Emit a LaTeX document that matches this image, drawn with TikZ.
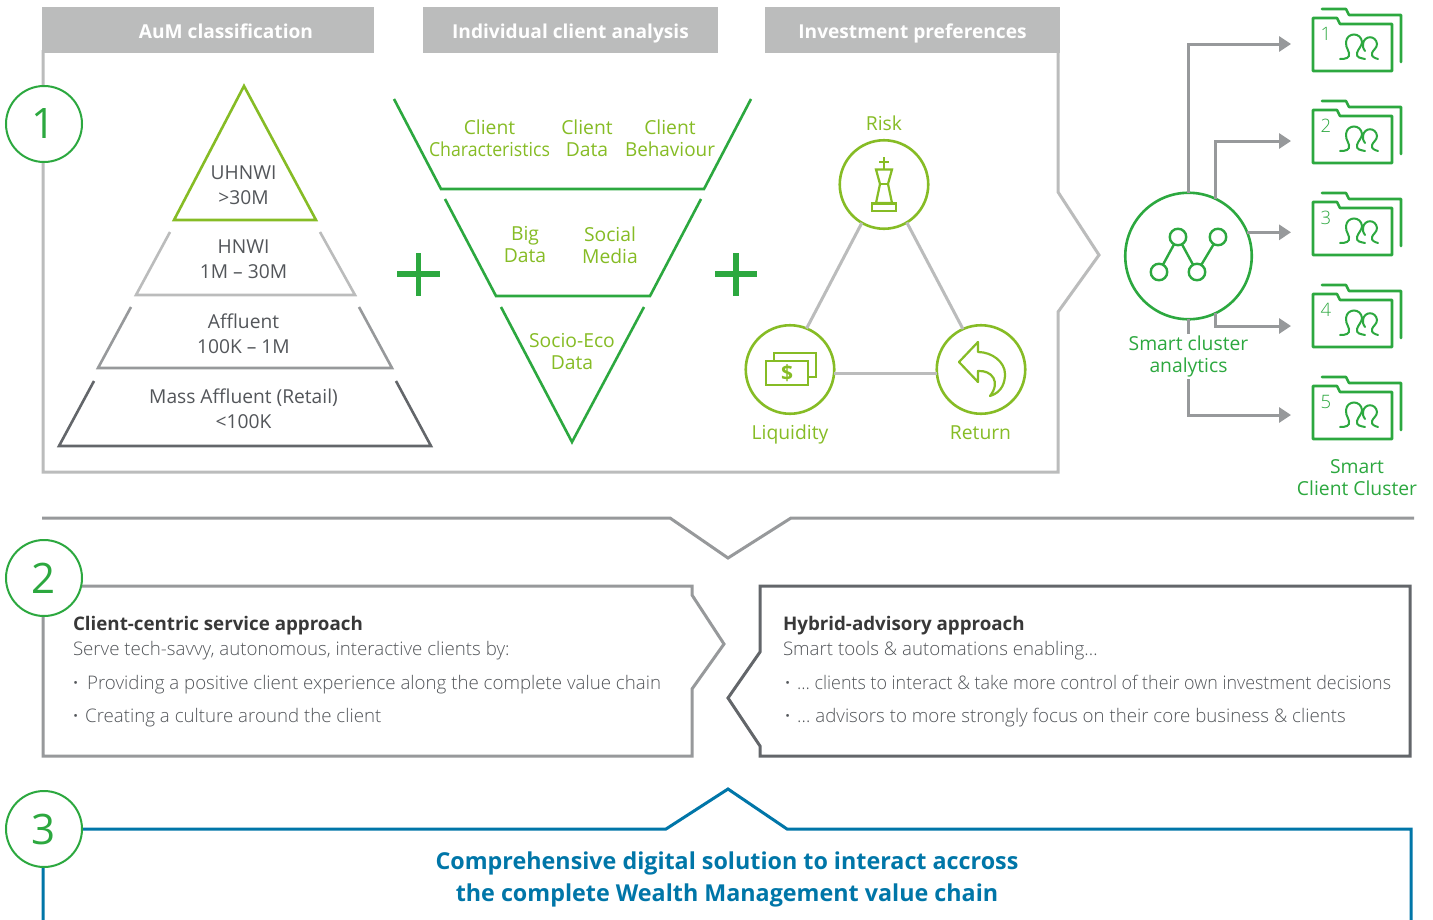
\documentclass[tikz,border=0pt]{standalone}
\usepackage{fontspec}
\setmainfont{Open Sans}
\newfontfamily\lightf{Open Sans Light}
\usetikzlibrary{arrows.meta,calc}
\definecolor{grn}{HTML}{2CA83F}
\definecolor{lime}{HTML}{86BC25}
\definecolor{lgray}{HTML}{BBBCBC}
\definecolor{mgray}{HTML}{97999B}
\definecolor{dgray}{HTML}{63666A}
\definecolor{txt}{HTML}{53565A}
\definecolor{blue}{HTML}{0076A8}
\newcommand{\fs}[2]{\fontsize{#1}{#2}\selectfont}
\tikzset{
 every node/.style={inner sep=0pt,outer sep=0pt},
 head/.style={fill=lgray,minimum height=46pt,anchor=north west},
 headt/.style={text=white,font=\fs{19.15}{22}\bfseries,anchor=base},
 lab/.style={align=center,text=txt,font=\fs{19.2}{25}},
 limelab/.style={align=center,text=lime,font=\fs{19.3}{22}},
 grnlab/.style={align=center,text=grn,font=\fs{19.3}{22}},
 num/.style={circle,draw=grn,line width=2pt,fill=white,minimum size=76pt,text=grn,font=\fs{42}{42}},
 bcirc/.style={circle,draw=lime,line width=2.6pt,fill=white,minimum size=88.5pt},
 conn/.style={draw=mgray,line width=3pt,-{Triangle[length=12pt,width=15pt]}},
 body/.style={anchor=base west,text=txt,font=\lightf\fs{18.7}{22}},
 bodyb/.style={anchor=base west,text=black!78,font=\fs{18.75}{22}\bfseries},
 fold/.style={draw=grn,line width=2.6pt,line join=round,line cap=round},
 ppl/.style={draw=grn,line width=2pt,line cap=round},
 frm/.style={line width=3pt,line join=miter},
 pics/folder/.style={code={
  \draw[fold] (0,0) -- (24,0) -- (27,6) -- (79,6) -- (79,53) -- (0,53) -- cycle;
  \draw[fold] (9,-9) -- (33,-9) -- (36,-3) -- (88,-3) -- (88,44);
  \draw[ppl] (27,41) .. controls (33,41) and (37,40) .. (36,35) .. controls (34,29) and (32,27) .. (33,24) .. controls (34,14) and (48,14) .. (49,24) .. controls (49,28) and (45,31) .. (44,35) .. controls (43,40) and (48,40) .. (52,41);
  \draw[ppl] (52,33) .. controls (50,30) and (49.5,28) .. (50,26) .. controls (51,17) and (63,17) .. (64,26) .. controls (64,30) and (60,32) .. (59,35) .. controls (58,39) and (62,40) .. (65,41);
 }},
}
\begin{document}
\begin{tikzpicture}[x=1pt,y=-1pt]
\useasboundingbox (0,0) rectangle (1433,919);
\fill[white] (0,0) rectangle (1433,919);
% frame 1
\draw[lgray,frm] (43,50) -- (43,472) -- (1058,472) -- (1058,312) -- (1099,255) -- (1058,192) -- (1058,50);
\node[head,minimum width=332pt] (h1) at (42,7) {};
\node[head,minimum width=295pt] (h2) at (423,7) {};
\node[head,minimum width=295pt] (h3) at (765,7) {};
\node[headt] (ht1) at (226,38.5) {AuM classification};
\node[headt] (ht2) at (570.5,38.5) {Individual client analysis};
\node[headt] (ht3) at (912.5,38.5) {Investment preferences};
\node[num] (n1) at (44,124) {1};
% pyramid
\draw[lime,line width=2.6pt,line join=miter] (244,86) -- (174,220) -- (316,220) -- cycle;
\draw[lgray,line width=2.6pt] (170,232) -- (136,295) -- (355,295) -- (320,232);
\draw[mgray,line width=2.6pt] (131,307) -- (98,368) -- (392,368) -- (359,307);
\draw[dgray,line width=2.6pt] (94,381) -- (59,446) -- (431,446) -- (396,381);
\node[lab] (p1) at (243.5,185) {UHNWI\\>30M};
\node[lab] (p2) at (243.5,259.5) {HNWI\\1M – 30M};
\node[lab] (p3) at (243.5,333.5) {Affluent\\100K – 1M};
\node[lab] (p4) at (243.5,408.5) {Mass Affluent (Retail)\\<100K};
% funnel
\draw[grn,line width=2.6pt] (394,99) -- (441,189) -- (704,189) -- (751,99);
\draw[grn,line width=2.6pt] (445,199) -- (496,296) -- (650,296) -- (701,199);
\draw[grn,line width=2.6pt] (501,307) -- (572,442) -- (644,307);
\node[limelab] (f1) at (489.5,138) {Client\\\scalebox{.917}[1]{Characteristics}};
\node[limelab] (f2) at (587,138) {Client\\Data};
\node[limelab] (f3) at (670,138) {Client\\\scalebox{.98}[1]{Behaviour}};
\node[limelab] (f4) at (525,245) {Big\\Data};
\node[limelab] (f5) at (610,245) {Social\\Media};
\node[limelab] (f6) at (572,351.5) {Socio-Eco\\Data};
% plus
\draw[grn,line width=5.5pt] (397,274) -- (440,274) (418.5,253) -- (418.5,296);
\draw[grn,line width=5.5pt] (715,274) -- (757,274) (736,253) -- (736,296);
% triangle
\node[bcirc] (risk) at (884,184.5) {};
\node[bcirc] (liq) at (790,369.5) {};
\node[bcirc] (ret) at (981,369.5) {};
\draw[lgray,line width=3pt] (risk.-120) -- (liq.68);
\draw[lgray,line width=3pt] (risk.-59) -- (ret.114);
\draw[lgray,line width=3pt] (liq.-5) -- (ret.185);
\node[limelab,anchor=base] (lr) at (884,130) {Risk};
\node[limelab,anchor=base] (ll) at (790,439) {Liquidity};
\node[limelab,anchor=base] (lre) at (980.5,439) {Return};
% king
\begin{scope}[lime,line width=2.2pt,line join=miter]
\draw (884,157) -- (884,169) (879,162) -- (889,162);
\draw (876,169.5) -- (892,169.5) -- (888,184) -- (892,203) -- (876,203) -- (880,184) -- cycle;
\draw (880,184) -- (888,184);
\draw (872,203.5) -- (896,203.5) -- (896,211) -- (872,211) -- cycle;
% money
\draw[fill=white] (774,353) -- (816,353) -- (816,377) -- (774,377) -- cycle;
\draw[fill=white] (766,361) -- (808,361) -- (808,385) -- (766,385) -- cycle;
% return
\draw[line join=round] (978,342) -- (959,362) -- (978,382) -- (978,371) .. controls (992,370) and (1001,382) .. (990,396) .. controls (1003,392) and (1005,381) .. (1005,374) .. controls (1005,362) and (992,352) .. (978,352) -- cycle;
\end{scope}
\node[text=lime,font=\fs{21}{21}\bfseries] (dollar) at (787,373) {\$};
% smart
\node[circle,draw=grn,line width=2.6pt,fill=white,minimum size=126.5pt] (smart) at (1188.5,256) {};
\coordinate (a1) at (1291,44);
\coordinate (a2) at (1291,141);
\coordinate (a3) at (1291,232);
\coordinate (a4) at (1291,326);
\coordinate (a5) at (1291,415);
\draw[conn] (smart.north) |- (a1);
\draw[conn] (smart.65) |- (a2);
\draw[conn] (smart.22.5) -- (smart.22.5 -| a3);
\draw[conn] (smart.-65) |- (a4);
\draw[conn] (smart.south) |- (a5);
\node[grnlab,fill=white,inner ysep=2pt,minimum width=128pt] (sl) at (1188.5,356.5) {Smart cluster\\analytics};
\node[circle,draw=grn,line width=2.4pt,minimum size=16.5pt] (s1) at (1159,272) {};
\node[circle,draw=grn,line width=2.4pt,minimum size=16.5pt] (s2) at (1178,237) {};
\node[circle,draw=grn,line width=2.4pt,minimum size=16.5pt] (s3) at (1197,272) {};
\node[circle,draw=grn,line width=2.4pt,minimum size=16.5pt] (s4) at (1218,237) {};
\draw[grn,line width=2.4pt] (s1) -- (s2) (s2) -- (s3) (s3) -- (s4);
\foreach \i/\y in {1/18,2/110,3/202,4/294,5/386}{
 \pic at (1313,\y) {folder};
 \node[text=grn,font=\lightf\fs{18.5}{18.5}] (c\i) at (1326,\y+15.5) {\i};
}
\node[grnlab] (cc) at (1357,477.5) {Smart\\Client Cluster};
% band 2
\draw[mgray,frm] (42,518) -- (670,518) -- (728,558) -- (791,518) -- (1414,518);
\draw[mgray,frm] (43,590) -- (43,756) -- (692,756) -- (692,689) -- (724,644) -- (692,595) -- (692,586) -- (60,586);
\draw[dgray,frm] (760,586) -- (1410,586) -- (1410,756) -- (760,756) -- (760,746) -- (728,698) -- (760,652) -- cycle;
\node[num] (n2) at (44,578) {2};
\node[bodyb] (t1) at (73,630) {Client-centric service approach};
\node[body] (t2) at (73,655) {Serve tech-savvy, autonomous, interactive clients by:};
\node[body] (t3) at (73,689) {\textbf{·}\hspace{9pt}Providing a positive client experience along the complete value chain};
\node[body] (t4) at (73,722) {\textbf{·}\hspace{7pt}Creating a culture around the client};
\node[bodyb] (u1) at (783,630) {Hybrid-advisory approach};
\node[body] (u2) at (783,655) {Smart tools \& automations enabling…};
\node[body] (u3) at (785,689) {\textbf{·}\hspace{7pt}\scalebox{.957}[1]{… clients to interact \& take more control of their own investment decisions}};
\node[body] (u4) at (785,722) {\textbf{·}\hspace{7pt}… advisors to more strongly focus on their core business \& clients};
% band 3
\draw[blue,frm] (43,925) -- (43,829) -- (666,829) -- (728,789) -- (787,829) -- (1411,829) -- (1411,925);
\node[num] (n3) at (44,829) {3};
\node[align=center,text=blue,font=\fs{23.3}{32}\bfseries] (b) at (727,879) {Comprehensive digital solution to interact accross\\the complete Wealth Management value chain};
\end{tikzpicture}
\end{document}
